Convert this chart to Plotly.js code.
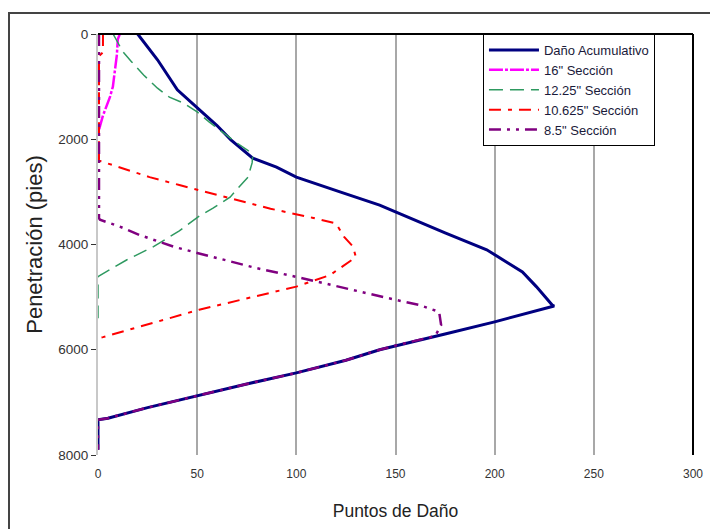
<!DOCTYPE html>
<html>
<head>
<meta charset="utf-8">
<script src="https://cdn.plot.ly/plotly-3.0.1.min.js"></script>
<style>
  html, body { margin: 0; padding: 0; background: #ffffff; }
  #frame { position: absolute; left: 8px; top: 12px; width: 720px; height: 540px;
           border-left: 2px solid #444; border-top: 2px solid #444; pointer-events: none; }
  #chart { position: absolute; left: 0; top: 0; width: 710px; height: 529px; }
</style>
</head>
<body>
<div id="chart"></div>
<div id="frame"></div>
<script>
// Cumulative damage
const cumX = [20, 25, 30, 40, 50, 60, 67, 78, 90, 100, 122, 142, 150, 175, 196, 214, 221, 229, 230, 215, 200, 175, 151, 142, 125, 100, 75, 50, 25, 5, 0, 0];
const cumD = [0, 250, 490, 1060, 1400, 1740, 2010, 2360, 2530, 2720, 3000, 3250, 3380, 3780, 4100, 4520, 4800, 5150, 5170, 5320, 5470, 5700, 5910, 6000, 6200, 6440, 6650, 6870, 7100, 7300, 7330, 7900];

// 16" section
const s16X = [11, 10, 9.5, 8.5, 7.5, 6, 4, 2.5, 1, 0];
const s16D = [0, 100, 400, 700, 1000, 1200, 1400, 1550, 1750, 1900];

// 12.25" section
const s1225X = [7.6, 12.6, 17, 23, 30, 36, 43, 50, 56, 70, 76.6, 78, 77.7, 75.6, 70.6, 66.6, 58, 51, 41, 28, 14.6, 1, 0, 0];
const s1225D = [0, 340, 530, 780, 1030, 1200, 1310, 1480, 1670, 2070, 2240, 2320, 2450, 2720, 2930, 3100, 3310, 3460, 3740, 4040, 4290, 4580, 4610, 5400];

// 10.625" section
const s10625X = [2.5, 2.5, 0.5, 0.5, 0, 26, 41, 67, 87, 108, 120, 124, 128.6, 130, 117, 100, 51, 2.5, 0];
const s10625D = [0, 350, 420, 2380, 2400, 2720, 2870, 3120, 3320, 3490, 3600, 3850, 4040, 4240, 4580, 4800, 5240, 5760, 5780];

// 8.5" section
const s85X = [0.5, 0.5, 1, 11, 21, 38, 50, 63, 80, 103, 124, 144, 162, 172, 173, 170, 151, 142, 125, 100, 75, 50, 25, 5, 0, 0];
const s85D = [0, 3500, 3530, 3660, 3820, 4040, 4160, 4290, 4450, 4640, 4830, 5000, 5150, 5280, 5530, 5740, 5910, 6000, 6200, 6440, 6650, 6870, 7100, 7300, 7330, 7900];

const seriesNames = ['Daño Acumulativo', '16" Sección', '12.25" Sección', '10.625" Sección', '8.5" Sección'];
const xTicks = [0, 50, 100, 150, 200, 250, 300];
const yTicks = [0, 2000, 4000, 6000, 8000];

const traces = [
  {x: cumX, y: cumD, name: seriesNames[0], mode: 'lines',
   line: {color: '#000080', width: 3}},
  {x: s16X, y: s16D, name: seriesNames[1], mode: 'lines',
   line: {color: '#ff00ff', width: 2.5, dash: '14px,2px,3px,2px'}},
  {x: s1225X, y: s1225D, name: seriesNames[2], mode: 'lines',
   line: {color: '#2e9960', width: 1.5, dash: '14px,7px'}},
  {x: s10625X, y: s10625D, name: seriesNames[3], mode: 'lines',
   line: {color: '#ff0000', width: 2, dash: '12px,7px,4px,7px'}},
  {x: s85X, y: s85D, name: seriesNames[4], mode: 'lines',
   line: {color: '#800080', width: 2.5, dash: '12px,6px,3px,6px,3px,6px'}}
];

const layout = {
  width: 710, height: 529,
  margin: {l: 98, r: 17, t: 34, b: 74},
  paper_bgcolor: '#ffffff', plot_bgcolor: '#ffffff',
  font: {family: 'Liberation Sans, Arial, sans-serif', color: '#333333', size: 12},
  showlegend: true,
  legend: {x: 0.647, y: 1, xanchor: 'left', yanchor: 'top',
           bgcolor: '#ffffff', bordercolor: '#000000', borderwidth: 1,
           font: {size: 13, color: '#1a1a3a'}, tracegroupgap: 0,
           itemwidth: 50},
  xaxis: {range: [0, 300], tickvals: xTicks, ticktext: xTicks.map(String),
          showgrid: true, gridcolor: '#a8a8a8', gridwidth: 2,
          zeroline: false, showline: false, ticks: '', fixedrange: true,
          ticklabelstandoff: 10,
          tickfont: {size: 12, color: '#333333'},
          title: {text: 'Puntos de Daño', font: {size: 17.5, color: '#222222'}, standoff: 24}},
  yaxis: {range: [8000, 0], tickvals: yTicks, ticktext: yTicks.map(String),
          showgrid: false, zeroline: false, showline: true, linecolor: '#c8c8c8', linewidth: 2,
          ticks: 'outside', ticklen: 5, tickcolor: '#333333', tickwidth: 1,
          tickfont: {size: 13.5, color: '#333333'}, fixedrange: true,
          title: {text: 'Penetración (pies)', font: {size: 22, color: '#222222'}, standoff: 10}},
  shapes: [
    {type: 'line', xref: 'paper', yref: 'paper', x0: 0, x1: 1, y0: 1, y1: 1,
     line: {color: '#000000', width: 2}},
    {type: 'line', xref: 'paper', yref: 'paper', x0: 1, x1: 1, y0: 0, y1: 1,
     line: {color: '#000000', width: 2}}
  ]
};

Plotly.newPlot('chart', traces, layout, {displayModeBar: false, staticPlot: true});
</script>
</body>
</html>
